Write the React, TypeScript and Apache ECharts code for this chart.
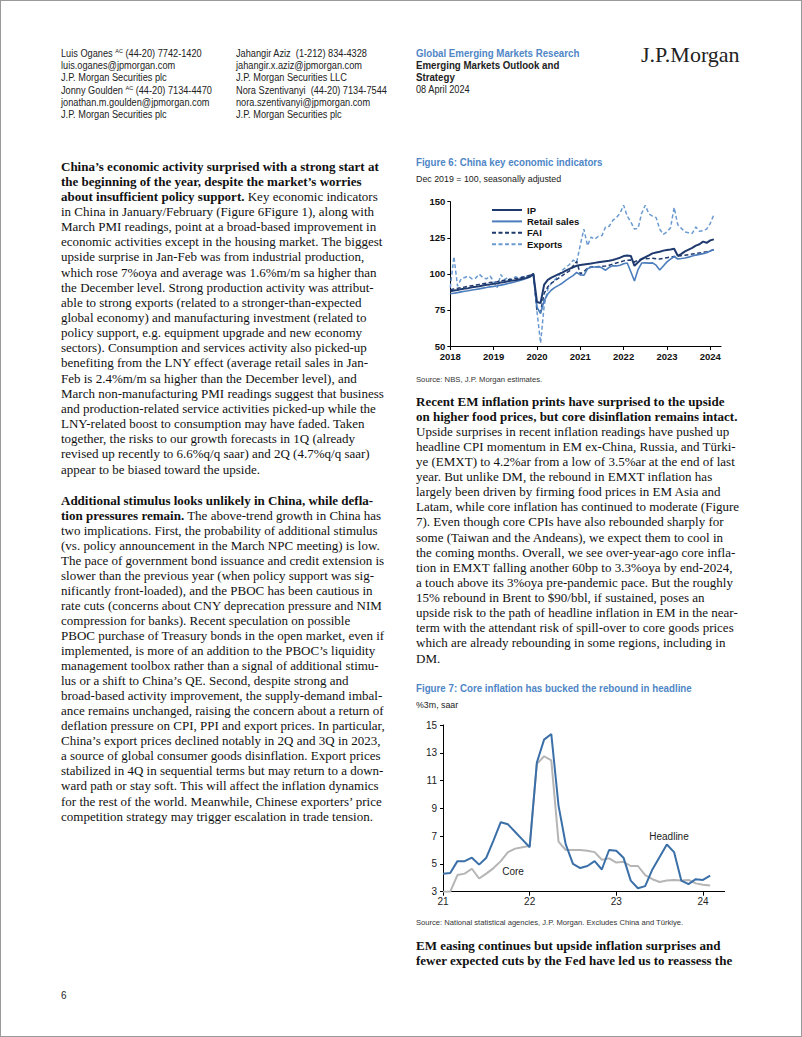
import React, { useEffect, useRef } from "react";
import * as echarts from "echarts";

// ---------------- Figure 6 data: Dec 2019 = 100, monthly Jan 2018 - Feb 2024 ----------------
const fig6Years = ["2018", "2019", "2020", "2021", "2022", "2023", "2024"];
const fig6LastCategory = "2024-04";
const fig6YTicks = { min: 50, max: 150, step: 25 };
const ipIndex = [
  87.9, 88.5, 88.8, 89.4, 89.8, 90.1, 90.7, 91.0, 91.4, 91.9, 92.4, 92.7,
  93.1, 93.4, 94.0, 94.3, 94.8, 95.3, 95.6, 96.1, 96.6, 97.2, 98.0, 100.0,
  80.5, 79.8, 92.5, 95.8, 97.4, 98.6, 99.8, 100.9, 102.3, 103.5, 104.6, 105.6,
  106.1, 106.5, 106.9, 107.2, 107.6, 108.0, 108.4, 108.8, 109.1, 109.6, 110.4, 111.2,
  112.3, 112.7, 112.4, 105.5, 108.0, 110.3, 111.5, 112.8, 114.2, 114.8, 115.3, 116.1,
  116.5, 116.9, 117.4, 112.5, 113.8, 115.6, 116.8, 118.0, 119.6, 120.5, 122.3, 121.5,
  123.2, 123.9,
];
const retailSales = [
  86.2, 86.6, 87.0, 87.5, 87.9, 88.3, 88.8, 89.2, 89.6, 90.1, 90.5, 91.0,
  91.3, 91.7, 92.2, 92.7, 93.3, 93.9, 94.5, 95.2, 96.0, 96.8, 97.8, 100.0,
  77.0, 72.5, 81.5, 86.0, 88.8, 90.6, 92.0, 93.5, 95.5, 97.2, 98.8, 101.0,
  99.3, 99.0, 103.5, 104.6, 104.8, 105.0, 104.2, 102.5, 104.5, 105.6, 105.5, 106.0,
  107.0, 107.5, 101.5, 95.0, 103.0, 107.5, 107.6, 107.4, 107.6, 106.0, 102.7, 105.5,
  108.3, 110.2, 112.0, 110.3, 110.6, 111.0, 111.6, 112.3, 113.0, 113.5, 114.0, 114.6,
  115.8, 116.8,
];
const faiIndex = [
  89.0, 89.6, 90.0, 90.5, 90.9, 91.4, 91.8, 92.2, 92.7, 93.2, 93.6, 94.0,
  94.3, 94.6, 95.2, 95.5, 95.9, 96.3, 96.7, 97.1, 97.6, 98.2, 99.0, 100.0,
  75.0, 73.5, 86.5, 91.0, 93.5, 95.2, 97.0, 98.8, 100.5, 102.0, 105.5, 108.5,
  100.0, 101.5, 104.0, 104.8, 105.0, 105.0, 105.2, 105.5, 106.0, 106.8, 107.5, 108.2,
  109.0, 109.5, 109.6, 108.2, 109.5, 110.3, 110.5, 110.6, 110.8, 110.5, 110.3, 110.8,
  111.2, 111.6, 112.0, 112.3, 112.6, 112.9, 113.3, 113.7, 114.1, 114.5, 114.9, 115.4,
  116.0, 116.8,
];
const exportsIndex = [
  90.5, 112.0, 91.5, 96.5, 97.5, 98.5, 96.5, 97.0, 99.8, 97.5, 96.5, 98.5,
  95.0, 90.5, 99.5, 96.0, 97.5, 95.5, 98.0, 97.0, 98.0, 98.3, 98.6, 100.0,
  74.0, 52.0, 78.0, 89.5, 93.5, 96.0, 98.5, 102.5, 104.5, 106.5, 109.5, 108.0,
  120.0, 131.0, 119.5, 125.5, 124.0, 126.0, 126.5, 132.5, 133.0, 137.0, 139.0, 142.0,
  147.5, 140.0, 136.0, 131.0, 131.5, 142.0, 147.5, 141.5, 140.0, 139.0, 131.0, 127.4,
  129.0, 132.0, 146.0, 134.0, 131.5, 129.0, 128.5, 128.0, 132.5, 129.5, 130.0, 131.0,
  135.0, 141.0,
];
const fig6SeriesNames = ["IP", "Retail sales", "FAI", "Exports"];

// ---------------- Figure 7 data: %3m saar, monthly Jan 2021 - Feb 2024 ----------------
const fig7Years = ["2021", "2022", "2023", "2024"];
const fig7LastCategory = "2024-04";
const fig7YTicks = { min: 3, max: 15, step: 2 };
const headlineInflation = [
  4.3, 4.35, 5.2, 5.2, 5.45, 4.95, 5.45, 6.7, 8.0, 7.85, 7.3, 6.75,
  6.2, 12.3, 13.95, 14.35, 9.2, 6.4, 5.0, 4.7, 4.85, 5.2, 4.6, 6.0,
  5.95, 5.45, 3.8, 3.25, 3.4, 4.6, 5.5, 6.4, 5.85, 3.8, 3.55, 3.9,
  3.85, 4.15,
];
const coreInflation = [
  3.0, 3.0, 4.2, 4.3, 4.65, 3.95, 4.3, 4.7, 5.2, 5.85, 6.1, 6.2,
  6.3, 12.2, 12.75, 12.45, 6.6, 6.0, 6.0, 6.0, 5.95, 5.85, 5.3, 5.4,
  5.1, 5.15, 4.85, 4.85, 4.2, 3.9, 3.7, 3.8, 3.85, 3.8, 3.85, 3.6,
  3.5, 3.45,
];

// ---------------- Text content ----------------
const leftPara1 = [
  "^China\u2019s economic activity surprised with a strong start at",
  "^the beginning of the year, despite the market\u2019s worries",
  "about insufficient policy support.| Key economic indicators",
  "in China in January/February (Figure 6Figure 1), along with",
  "March PMI readings, point at a broad-based improvement in",
  "economic activities except in the housing market. The biggest",
  "upside surprise in Jan-Feb was from industrial production,",
  "which rose 7%oya and average was 1.6%m/m sa higher than",
  "the December level. Strong production activity was attribut-",
  "able to strong exports (related to a stronger-than-expected",
  "global economy) and manufacturing investment (related to",
  "policy support, e.g. equipment upgrade and new economy",
  "sectors). Consumption and services activity also picked-up",
  "benefiting from the LNY effect (average retail sales in Jan-",
  "Feb is 2.4%m/m sa higher than the December level), and",
  "March non-manufacturing PMI readings suggest that business",
  "and production-related service activities picked-up while the",
  "LNY-related boost to consumption may have faded. Taken",
  "together, the risks to our growth forecasts in 1Q (already",
  "revised up recently to 6.6%q/q saar) and 2Q (4.7%q/q saar)",
  "appear to be biased toward the upside.",
];
const leftPara2 = [
  "^Additional stimulus looks unlikely in China, while defla-",
  "tion pressures remain.| The above-trend growth in China has",
  "two implications. First, the probability of additional stimulus",
  "(vs. policy announcement in the March NPC meeting) is low.",
  "The pace of government bond issuance and credit extension is",
  "slower than the previous year (when policy support was sig-",
  "nificantly front-loaded), and the PBOC has been cautious in",
  "rate cuts (concerns about CNY deprecation pressure and NIM",
  "compression for banks). Recent speculation on possible",
  "PBOC purchase of Treasury bonds in the open market, even if",
  "implemented, is more of an addition to the PBOC\u2019s liquidity",
  "management toolbox rather than a signal of additional stimu-",
  "lus or a shift to China\u2019s QE. Second, despite strong and",
  "broad-based activity improvement, the supply-demand imbal-",
  "ance remains unchanged, raising the concern about a return of",
  "deflation pressure on CPI, PPI and export prices. In particular,",
  "China\u2019s export prices declined notably in 2Q and 3Q in 2023,",
  "a source of global consumer goods disinflation. Export prices",
  "stabilized in 4Q in sequential terms but may return to a down-",
  "ward path or stay soft. This will affect the inflation dynamics",
  "for the rest of the world. Meanwhile, Chinese exporters\u2019 price",
  "competition strategy may trigger escalation in trade tension.",
];
const rightPara1 = [
  "^Recent EM inflation prints have surprised to the upside",
  "^on higher food prices, but core disinflation remains intact.",
  "Upside surprises in recent inflation readings have pushed up",
  "headline CPI momentum in EM ex-China, Russia, and T\u00fcrki-",
  "ye (EMXT) to 4.2%ar from a low of 3.5%ar at the end of last",
  "year. But unlike DM, the rebound in EMXT inflation has",
  "largely been driven by firming food prices in EM Asia and",
  "Latam, while core inflation has continued to moderate (Figure",
  "7). Even though core CPIs have also rebounded sharply for",
  "some (Taiwan and the Andeans), we expect them to cool in",
  "the coming months. Overall, we see over-year-ago core infla-",
  "tion in EMXT falling another 60bp to 3.3%oya by end-2024,",
  "a touch above its 3%oya pre-pandemic pace. But the roughly",
  "15% rebound in Brent to $90/bbl, if sustained, poses an",
  "upside risk to the path of headline inflation in EM in the near-",
  "term with the attendant risk of spill-over to core goods prices",
  "which are already rebounding in some regions, including in",
  "DM.",
];
const rightPara2 = [
  "^EM easing continues but upside inflation surprises and",
  "^fewer expected cuts by the Fed have led us to reassess the",
];

const SERIF = '"Liberation Serif", "Times New Roman", Times, serif';
const SANS = '"Liberation Sans", Arial, Helvetica, sans-serif';
const BLUE = "#4F86C6";

function buildMonths(years: string[], last: string): string[] {
  const out: string[] = [];
  years.forEach((y) => {
    for (let m = 1; m <= 12; m++) {
      const c = `${y}-${String(m).padStart(2, "0")}`;
      if (c <= last) out.push(c);
    }
  });
  return out;
}
const fig6Categories = buildMonths(fig6Years, fig6LastCategory);
const fig7Categories = buildMonths(fig7Years, fig7LastCategory);
const isJan = (_i: number, v: string) => String(v).endsWith("-01");

function EChart({ option, style }: { option: any; style: React.CSSProperties }) {
  const ref = useRef<HTMLDivElement>(null);
  useEffect(() => {
    const chart = echarts.init(ref.current!, undefined, { renderer: "svg" });
    chart.setOption(option);
    return () => chart.dispose();
  }, []);
  return <div ref={ref} style={style} />;
}

function TextAt(props: {
  x: number; y: number; children: any; size?: number; weight?: number | string;
  color?: string; family?: string; sx?: number; lh?: number;
}) {
  const { x, y, children, size = 10, weight = 400, color = "#222", family = SANS, sx = 1, lh = 12 } = props;
  return (
    <div
      style={{
        position: "absolute", left: x, top: y - lh / 2, height: lh, lineHeight: lh + "px",
        fontSize: size, fontWeight: weight as any, color, fontFamily: family, whiteSpace: "nowrap",
        transform: sx !== 1 ? `scaleX(${sx})` : undefined, transformOrigin: "left center",
      }}
    >
      {children}
    </div>
  );
}

function Para({ x, y0, step, lines }: { x: number; y0: number; step: number; lines: string[] }) {
  return (
    <>
      {lines.map((ln, i) => {
        let content: any;
        if (ln.startsWith("^")) content = <b>{ln.slice(1)}</b>;
        else if (ln.includes("|")) {
          const [a, b] = ln.split("|");
          content = (<><b>{a}</b>{b}</>);
        } else content = ln;
        return (
          <TextAt key={i} x={x} y={y0 + i * step} size={13} family={SERIF} color="#111" lh={15}>
            {content}
          </TextAt>
        );
      })}
    </>
  );
}

const AC = () => <span style={{ fontSize: 6, verticalAlign: "super", lineHeight: 0 }}>AC</span>;

const fig6Colors: Record<string, string> = {
  IP: "#1F3A6E", "Retail sales": "#4C7EBD", FAI: "#1F3A6E", Exports: "#6B9AD0",
};

const fig6Option = {
  animation: false,
  textStyle: { fontFamily: SANS },
  grid: { left: 34.3, top: 10.7, width: 270.8, height: 144.3, outerBoundsMode: "none" },
  legend: {
    orient: "vertical", left: 70, top: 9, itemWidth: 30, itemHeight: 10, itemGap: 1.4,
    itemStyle: { opacity: 0 },
    textStyle: { fontSize: 9.5, fontWeight: "bold", color: "#111", fontFamily: SANS },
    data: fig6SeriesNames,
  },
  xAxis: {
    type: "category", data: fig6Categories, boundaryGap: false,
    axisLine: { lineStyle: { color: "#000", width: 1 } },
    axisTick: { interval: isJan, length: 4, lineStyle: { color: "#000" } },
    axisLabel: {
      interval: isJan, formatter: (v: string) => v.slice(0, 4),
      fontSize: 9.5, fontWeight: "bold", color: "#111", margin: 5, fontFamily: SANS,
    },
    splitLine: { show: false },
  },
  yAxis: {
    type: "value", min: fig6YTicks.min, max: fig6YTicks.max, interval: fig6YTicks.step,
    axisLine: { show: true, lineStyle: { color: "#000", width: 1 } },
    axisTick: { show: true, length: 3, lineStyle: { color: "#000" } },
    axisLabel: { fontSize: 9.5, fontWeight: "bold", color: "#111", margin: 5, fontFamily: SANS },
    splitLine: { show: false },
  },
  series: [
    { name: "Exports", data: exportsIndex, width: 1.5, dash: [4, 2.5] },
    { name: "FAI", data: faiIndex, width: 1.5, dash: [4, 2.5] },
    { name: "Retail sales", data: retailSales, width: 1.6, dash: "solid" },
    { name: "IP", data: ipIndex, width: 2, dash: "solid" },
  ].map((s) => ({
    name: s.name, type: "line", data: s.data, symbol: "none", showSymbol: false,
    lineStyle: { color: fig6Colors[s.name], width: s.width, type: s.dash },
    itemStyle: { color: fig6Colors[s.name] },
  })),
};

const fig7Option = {
  animation: false,
  textStyle: { fontFamily: SANS },
  grid: { left: 27, top: 16, width: 281.6, height: 166.7, outerBoundsMode: "none" },
  xAxis: {
    type: "category", data: fig7Categories, boundaryGap: false,
    axisLine: { lineStyle: { color: "#000", width: 1 } },
    axisTick: { interval: isJan, length: 4, lineStyle: { color: "#000" } },
    axisLabel: {
      interval: isJan, formatter: (v: string) => v.slice(2, 4),
      fontSize: 10, color: "#222", margin: 5, fontFamily: SANS,
    },
    splitLine: { show: false },
  },
  yAxis: {
    type: "value", min: fig7YTicks.min, max: fig7YTicks.max, interval: fig7YTicks.step,
    axisLine: { show: true, lineStyle: { color: "#000", width: 1 } },
    axisTick: { show: true, length: 3, lineStyle: { color: "#000" } },
    axisLabel: { fontSize: 10, color: "#222", margin: 6, fontFamily: SANS },
    splitLine: { show: false },
  },
  graphic: [
    { type: "text", x: 253, y: 127, style: { text: "Headline", fontSize: 10, fill: "#222", fontFamily: SANS, align: "center", verticalAlign: "middle", textAlign: "center", textVerticalAlign: "middle" } },
    { type: "text", x: 97, y: 162, style: { text: "Core", fontSize: 10, fill: "#222", fontFamily: SANS, align: "center", verticalAlign: "middle", textAlign: "center", textVerticalAlign: "middle" } },
  ],
  series: [
    { name: "Core", type: "line", data: coreInflation, symbol: "none", lineStyle: { color: "#B5B5B5", width: 2 }, itemStyle: { color: "#B5B5B5" } },
    { name: "Headline", type: "line", data: headlineInflation, symbol: "none", lineStyle: { color: "#3A6FA8", width: 2 }, itemStyle: { color: "#3A6FA8" } },
  ],
};

export default function App() {
  const hs = 0.92;
  const hb = 0.97;
  return (
    <div
      style={{
        position: "absolute", left: 0, top: 0, width: 802, height: 1037, background: "#fff",
        overflow: "hidden", boxSizing: "border-box", border: "1px solid #9a9a9a",
      }}
    >
      {/* header column 1 */}
      <TextAt x={60} y={53} sx={hs}>Luis Oganes <AC /> (44-20) 7742-1420</TextAt>
      <TextAt x={60} y={65} sx={hs}>luis.oganes@jpmorgan.com</TextAt>
      <TextAt x={60} y={77} sx={hs}>J.P. Morgan Securities plc</TextAt>
      <TextAt x={60} y={90} sx={hs}>Jonny Goulden <AC /> (44-20) 7134-4470</TextAt>
      <TextAt x={60} y={102} sx={hs}>jonathan.m.goulden@jpmorgan.com</TextAt>
      <TextAt x={60} y={114} sx={hs}>J.P. Morgan Securities plc</TextAt>
      {/* header column 2 */}
      <TextAt x={235} y={53} sx={hs}>Jahangir Aziz&nbsp; (1-212) 834-4328</TextAt>
      <TextAt x={235} y={65} sx={hs}>jahangir.x.aziz@jpmorgan.com</TextAt>
      <TextAt x={235} y={77} sx={hs}>J.P. Morgan Securities LLC</TextAt>
      <TextAt x={235} y={90} sx={hs}>Nora Szentivanyi&nbsp; (44-20) 7134-7544</TextAt>
      <TextAt x={235} y={102} sx={hs}>nora.szentivanyi@jpmorgan.com</TextAt>
      <TextAt x={235} y={114} sx={hs}>J.P. Morgan Securities plc</TextAt>
      {/* header column 3 */}
      <TextAt x={415} y={53} sx={hb} weight="bold" color={BLUE}>Global Emerging Markets Research</TextAt>
      <TextAt x={415} y={65} sx={hb} weight="bold" color="#222">Emerging Markets Outlook and</TextAt>
      <TextAt x={415} y={77} sx={hb} weight="bold" color="#222">Strategy</TextAt>
      <TextAt x={415} y={89} sx={hs}>08 April 2024</TextAt>
      <TextAt x={640} y={54} size={22} family={SERIF} color="#222" lh={26}>J.P.Morgan</TextAt>

      {/* left column */}
      <Para x={60} y0={165} step={15.15} lines={leftPara1} />
      <Para x={60} y0={499} step={15.05} lines={leftPara2} />

      {/* Figure 6 */}
      <TextAt x={415} y={162} size={10} weight="bold" color={BLUE} sx={0.97}>Figure 6: China key economic indicators</TextAt>
      <TextAt x={415} y={178} size={9.5} color="#222" sx={0.93}>Dec 2019 = 100, seasonally adjusted</TextAt>
      <EChart option={fig6Option} style={{ position: "absolute", left: 415, top: 190, width: 320, height: 180 }} />
      <TextAt x={415} y={379} size={8} color="#333" sx={0.96}>Source: NBS, J.P. Morgan estimates.</TextAt>

      <Para x={415} y0={400} step={15.12} lines={rightPara1} />

      {/* Figure 7 */}
      <TextAt x={415} y={688} size={10} weight="bold" color={BLUE} sx={0.975}>Figure 7: Core inflation has bucked the rebound in headline</TextAt>
      <TextAt x={415} y={704} size={9.5} color="#222" sx={0.93}>%3m, saar</TextAt>
      <EChart option={fig7Option} style={{ position: "absolute", left: 415, top: 708, width: 320, height: 207 }} />
      <TextAt x={415} y={922} size={8} color="#333" sx={0.95}>Source: National statistical agencies, J.P. Morgan. Excludes China and T&uuml;rkiye.</TextAt>

      <Para x={415} y0={944} step={15.5} lines={rightPara2} />

      <TextAt x={60} y={995} size={10}>6</TextAt>
    </div>
  );
}
